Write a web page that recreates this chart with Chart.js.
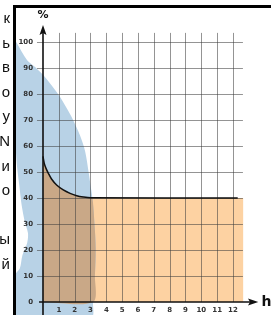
<!DOCTYPE html>
<html>
<head>
<meta charset="utf-8">
<script src="https://cdn.jsdelivr.net/npm/chart.js@4.4.1/dist/chart.umd.min.js"></script>
<style>
  html, body { margin: 0; padding: 0; background: #fff; }
  body { width: 271px; height: 315px; position: relative; overflow: hidden; }
  #chart { position: absolute; left: 16px; top: 0; }
  #frame {
    position: absolute; left: 13px; top: 5px; width: 260px; height: 320px;
    border-left: 3px solid #000; border-top: 3px solid #000; z-index: 2; pointer-events: none;
  }
  #side {
    position: absolute; left: -20px; top: 6px; width: 30px; z-index: 2;
    text-align: right; white-space: pre; color: #111;
    font: 15px "Liberation Sans", Arial, sans-serif; line-height: 24.6px;
  }
</style>
</head>
<body>
<canvas id="chart" width="255" height="315"></canvas>
<div id="frame"></div>
<div id="side">к
ь
в
о
у
N
и
о

ы
й</div>
<script>
// tick labels
const hourTicks = [1, 2, 3, 4, 5, 6, 7, 8, 9, 10, 11, 12];
const pctTicks = [0, 10, 20, 30, 40, 50, 60, 70, 80, 90, 100];

// black curve (hours -> %)
const curveH = [0, 0.08, 0.19, 0.34, 0.55, 0.86, 1.28, 1.71, 2.13, 2.55, 3.0, 12.3];
const curvePct = [56, 53.3, 51.4, 49.5, 47.2, 45.0, 43.1, 41.8, 40.9, 40.4, 40.1, 40];

// orange band runs on at 40 % to here
const bandEndH = 12.66;

// blue blob outline, clockwise from top left (left side sits under the frame)
const blobH = [-1.75, -1.0, -0.5, 0.2, 0.95, 1.5, 1.9, 2.34, 2.66, 2.88, 3.0, 3.12, 3.25, 3.33, 3.28, 3.16, 3.04,
               -1.75, -1.75, -1.46, -1.3, -1.0, -0.95, -1.15, -1.35, -1.5, -1.65, -1.75];
const blobPct = [100.5, 93, 90.4, 86, 80, 74.5, 70, 64, 58, 50, 45, 40, 30.4, 20.4, 10.4, 0, -6,
                 -6, 10.4, 13, 18, 22.7, 26.5, 30.8, 37.3, 45, 52.7, 62];

const pts = (xs, ys) => xs.map((x, i) => ({x: x, y: ys[i]}));

const curvePts = pts(curveH, curvePct);
const bandPts = curvePts.concat([{x: bandEndH, y: 40}]);
const blobPts = pts(blobH, blobPct);
// overlap of band and blob: curve up to the blob edge, then down the edge
const overlapPts = curvePts.filter(p => p.x <= 3.0)
  .concat(blobPts.filter(p => p.x > 2.5 && p.y <= 40.1 && p.y >= 0))
  .concat([{x: 0, y: 0}]);

const axesPlugin = {
  id: 'handAxes',
  afterDatasetDraw(chart, args) {
    if (args.index !== 2) return;
    const {ctx, scales: {x, y}} = chart;
    const px = v => x.getPixelForValue(v);
    const py = v => y.getPixelForValue(v);
    const r = v => Math.round(v) + 0.5;
    ctx.save();
    // grid
    ctx.strokeStyle = 'rgba(60,60,60,0.55)';
    ctx.lineWidth = 1;
    ctx.beginPath();
    hourTicks.forEach(h => {
      ctx.moveTo(r(px(h)), py(0));
      ctx.lineTo(r(px(h)), py(103.5));
    });
    pctTicks.filter(p => p > 0).forEach(p => {
      ctx.moveTo(px(-0.38), r(py(p)));
      ctx.lineTo(px(12.63), r(py(p)));
    });
    ctx.stroke();

    // axes
    ctx.strokeStyle = '#111';
    ctx.fillStyle = '#111';
    ctx.lineWidth = 1.6;
    ctx.beginPath();
    ctx.moveTo(px(0), py(-6));
    ctx.lineTo(px(0), py(104));
    ctx.moveTo(px(-0.25), py(0));
    ctx.lineTo(px(13.1), py(0));
    ctx.stroke();
    // arrow heads
    const ax = px(0), ay = py(0);
    ctx.beginPath();
    ctx.moveTo(ax, py(106.5));
    ctx.lineTo(ax + 3.5, py(102.7));
    ctx.lineTo(ax, py(103.5));
    ctx.lineTo(ax - 3.5, py(102.7));
    ctx.closePath();
    ctx.fill();
    ctx.beginPath();
    ctx.moveTo(px(13.6), ay);
    ctx.lineTo(px(12.95), ay - 3.5);
    ctx.lineTo(px(13.08), ay);
    ctx.lineTo(px(12.95), ay + 3.5);
    ctx.closePath();
    ctx.fill();

    // tick labels
    ctx.fillStyle = '#333';
    ctx.font = 'bold 7px "DejaVu Sans"';
    ctx.textBaseline = 'middle';
    ctx.textAlign = 'right';
    pctTicks.forEach(p => ctx.fillText(String(p), px(-0.63), py(p)));
    ctx.textAlign = 'center';
    hourTicks.forEach(h => ctx.fillText(String(h), px(h), ay + 8));

    // axis titles
    ctx.fillStyle = '#111';
    ctx.font = 'bold 11px "DejaVu Sans"';
    ctx.fillText('%', ax, py(110.4));
    ctx.font = 'bold 14px "DejaVu Sans"';
    ctx.textAlign = 'left';
    ctx.fillText('h', px(13.8), ay);
    ctx.restore();
  }
};

new Chart(document.getElementById('chart'), {
  type: 'line',
  data: {
    datasets: [
      {data: bandPts, backgroundColor: '#fdd2a2', borderWidth: 0, fill: 'origin', order: 4},
      {data: blobPts, backgroundColor: '#b8d2e6', borderWidth: 0, fill: 'shape', order: 3},
      {data: overlapPts, backgroundColor: '#c9a887', borderWidth: 0, fill: 'shape', order: 2},
      {data: curvePts, borderColor: '#111', borderWidth: 1.5, fill: false, order: 1}
    ]
  },
  options: {
    responsive: false,
    animation: false,
    events: [],
    layout: {padding: {left: 0, top: 9, right: 0, bottom: 0}},
    elements: {point: {radius: 0}, line: {tension: 0.3}},
    plugins: {legend: {display: false}, tooltip: {enabled: false}},
    scales: {
      x: {type: 'linear', display: false, min: -1.7056, max: 14.403},
      y: {type: 'linear', display: false, min: -5, max: 112.69}
    }
  },
  plugins: [axesPlugin]
});
</script>
</body>
</html>
